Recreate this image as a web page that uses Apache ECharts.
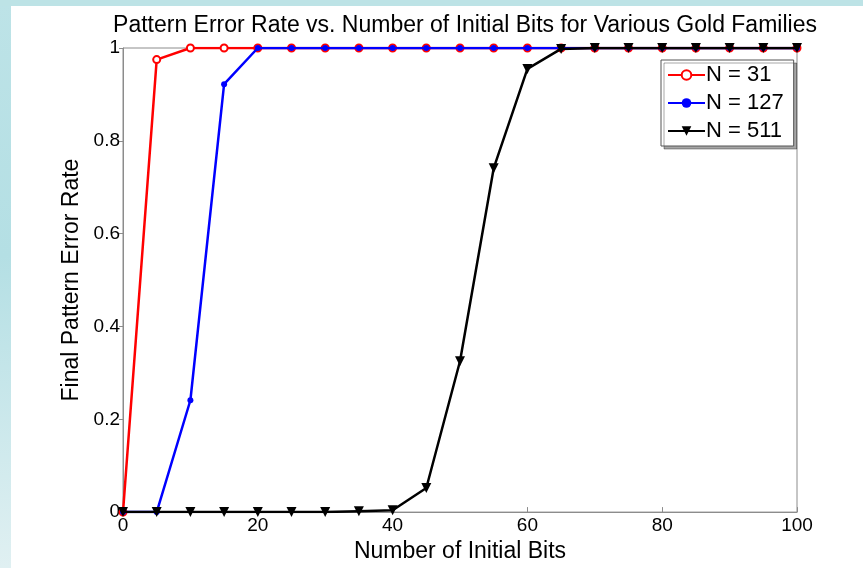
<!DOCTYPE html>
<html><head><meta charset="utf-8">
<script src="https://cdn.jsdelivr.net/npm/echarts@6/dist/echarts.min.js"></script>
<style>html,body{margin:0;padding:0;background:#fff}#c{width:863px;height:568px}</style>
</head><body><div id="c"></div>
<script>
const bits = [0,5,10,15,20,25,30,35,40,45,50,55,60,65,70,75,80,85,90,95,100];
const n31  = [0,0.975,1,1,1,1,1,1,1,1,1,1,1,1,1,1,1,1,1,1,1];
const n127 = [0,0,0.241,0.922,1,1,1,1,1,1,1,1,1,1,1,1,1,1,1,1,1];
const n511 = [0,0,0,0,0,0,0,0.002,0.004,0.052,0.325,0.741,0.955,0.998,1,1,1,1,1,1,1];
const seriesNames = ['N = 31','N = 127','N = 511'];
const yTicks = [0,0.2,0.4,0.6,0.8,1];
const xTicks = [0,20,40,60,80,100];

const pair = (xs, ys) => xs.map((x,i)=>[x, ys[i]]);
const font = 'Liberation Sans, Arial, sans-serif';
const chart = echarts.init(document.getElementById('c'), null, {renderer:'canvas'});
chart.setOption({
  animation:false,
  backgroundColor:'#ffffff',
  graphic:[
    {type:'rect', left:0, top:0, shape:{width:11,height:568}, z:-10,
     style:{fill:new echarts.graphic.LinearGradient(0,0,0,1,[{offset:0,color:'#bde3e7'},{offset:0.45,color:'#b4dfe4'},{offset:1,color:'#e0f0f2'}])}},
    {type:'rect', left:0, top:0, shape:{width:863,height:6}, z:-10, style:{fill:'#bde3e6'}}
  ],
  title:{text:'Pattern Error Rate vs. Number of Initial Bits for Various Gold Families',
    left:460, top:9, textAlign:'center',
    textStyle:{fontFamily:font, fontSize:23, fontWeight:'normal', color:'#000'}},
  grid:{left:123, right:66, top:48, bottom:55, show:true, borderColor:'#8c8c8c', borderWidth:1, backgroundColor:'transparent'},
  legend:{
    data:seriesNames, orient:'vertical', left:661, top:60,
    itemWidth:37, itemHeight:12, itemGap:6,
    padding:[4,10,4,6],
    backgroundColor:'#fff', borderColor:'#555', borderWidth:1,
    shadowColor:'rgba(0,0,0,0.35)', shadowOffsetX:3, shadowOffsetY:3, shadowBlur:0,
    textStyle:{fontFamily:font, fontSize:22, color:'#000', padding:[0,0,0,-4]}
  },
  xAxis:{type:'value', min:0, max:100, interval:20,
    name:'Number of Initial Bits', nameLocation:'middle', nameGap:27,
    nameTextStyle:{fontFamily:font, fontSize:23, color:'#000'},
    axisLine:{onZero:false, lineStyle:{color:'#8c8c8c'}},
    axisTick:{inside:true, length:5, lineStyle:{color:'#8c8c8c'}},
    axisLabel:{fontFamily:font, fontSize:19, color:'#000', margin:4,
      formatter:v=>xTicks.includes(v)?String(v):''},
    splitLine:{show:false}},
  yAxis:{type:'value', min:0, max:1, interval:0.2,
    name:'Final Pattern Error Rate', nameLocation:'middle', nameGap:40,
    nameTextStyle:{fontFamily:font, fontSize:23, color:'#000'},
    axisLine:{onZero:false, lineStyle:{color:'#8c8c8c'}},
    axisTick:{inside:false, length:4, lineStyle:{color:'#8c8c8c'}},
    axisLabel:{fontFamily:font, fontSize:19, color:'#000', margin:3,
      formatter:v=>{const t=yTicks.find(a=>Math.abs(a-v)<1e-9);return t===undefined?'':String(t);}},
    splitLine:{show:false}},
  series:[
    {name:seriesNames[0], type:'line', data:pair(bits,n31), color:'#ff0000',
     symbol:'emptyCircle', symbolSize:7, lineStyle:{width:2.5, color:'#ff0000'},
     itemStyle:{color:'#ff0000', borderWidth:1.5}, z:2},
    {name:seriesNames[1], type:'line', data:pair(bits,n127), color:'#0000ff',
     symbol:'circle', symbolSize:6, lineStyle:{width:2.5, color:'#0000ff'},
     itemStyle:{color:'#0000ff'}, z:3},
    {name:seriesNames[2], type:'line', data:pair(bits,n511), color:'#000000',
     symbol:'triangle', symbolRotate:180, symbolSize:10, lineStyle:{width:2.5, color:'#000'},
     itemStyle:{color:'#000'}, z:4}
  ]
});
</script></body></html>
